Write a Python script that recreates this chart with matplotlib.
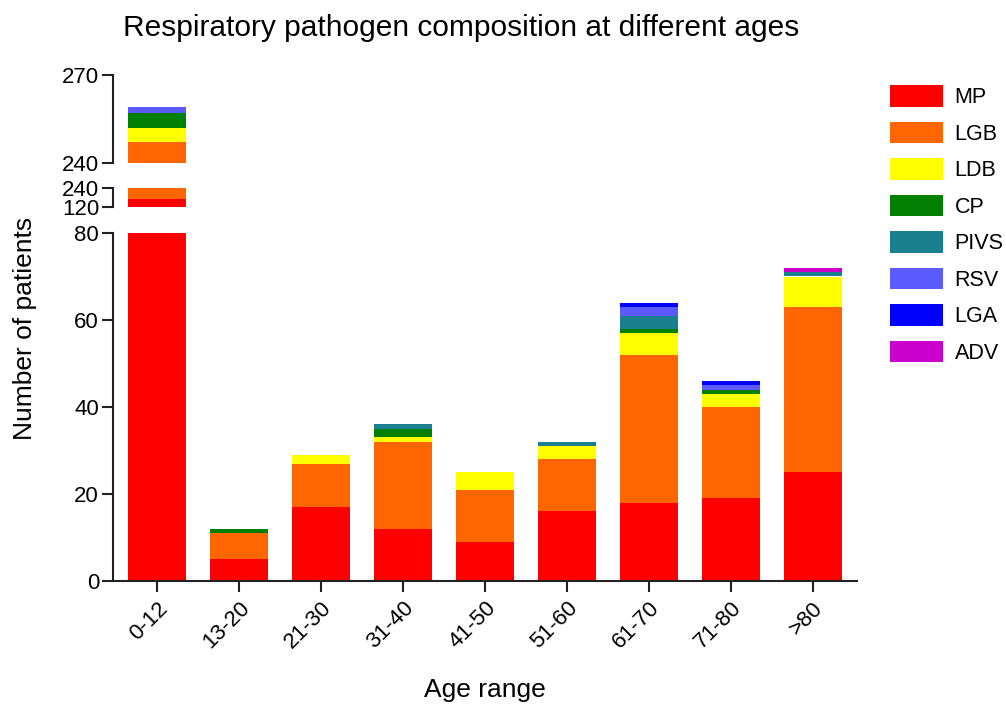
import matplotlib
matplotlib.use("Agg")
import matplotlib.pyplot as plt
import numpy as np

plt.rcParams['font.family'] = ['Liberation Sans', 'DejaVu Sans']

ages = ['0-12', '13-20', '21-30', '31-40', '41-50', '51-60', '61-70', '71-80', '>80']
pathogens = ['MP', 'LGB', 'LDB', 'CP', 'PIVS', 'RSV', 'LGA', 'ADV']
MP = [168, 5, 17, 12, 9, 16, 18, 19, 25]
LGB = [79, 6, 10, 20, 12, 12, 34, 21, 38]
LDB = [5, 0, 2, 1, 4, 3, 5, 3, 7]
CP = [5, 1, 0, 2, 0, 0, 1, 1, 0]
PIVS = [0, 0, 0, 1, 0, 1, 3, 0, 1]
RSV = [2, 0, 0, 0, 0, 0, 2, 1, 0]
LGA = [0, 0, 0, 0, 0, 0, 1, 1, 0]
ADV = [0, 0, 0, 0, 0, 0, 0, 0, 1]
series = [MP, LGB, LDB, CP, PIVS, RSV, LGA, ADV]
colors = ['#FF0000', '#FF6600', '#FFFF00', '#007F00', '#1A7F8F', '#5A5AFF', '#0000FF', '#CC00CC']

W, H = 1006, 713
fig = plt.figure(figsize=(W / 100, H / 100), dpi=100)

def box(left, right, top, bottom):
    return [left / W, 1 - bottom / H, (right - left) / W, (bottom - top) / H]

ax_bot = fig.add_axes(box(113, 857, 233, 581))
ax_mid = fig.add_axes(box(113, 857, 188, 207))
ax_top = fig.add_axes(box(113, 857, 75, 163))

x = np.arange(len(ages))
spine_col = '#222222'
for ax in (ax_bot, ax_mid, ax_top):
    bottom = np.zeros(len(ages))
    for vals, c, name in zip(series, colors, pathogens):
        ax.bar(x, vals, bottom=bottom, width=0.71, color=c, linewidth=0, label=name)
        bottom += np.array(vals)
    ax.set_xlim(-0.54, 8.54)
    for s in ('top', 'right'):
        ax.spines[s].set_visible(False)
    ax.spines['left'].set_linewidth(1.5)
    ax.spines['left'].set_color(spine_col)
    ax.tick_params(axis='y', direction='out', length=8, width=1.5, color=spine_col,
                   labelsize=16, pad=2)

for ax in (ax_mid, ax_top):
    ax.spines['bottom'].set_visible(False)
    ax.set_xticks([])

ax_bot.set_ylim(0, 80)
ax_bot.set_yticks([0, 20, 40, 60, 80])
ax_mid.set_ylim(120, 240)
ax_mid.set_yticks([120, 240])
ax_top.set_ylim(240, 270)
ax_top.set_yticks([240, 270])

ax_bot.spines['bottom'].set_linewidth(1.5)
ax_bot.spines['bottom'].set_color(spine_col)
ax_bot.set_xticks(x)
ax_bot.set_xticklabels(ages, rotation=45, ha='right', rotation_mode='anchor')
ax_bot.tick_params(axis='x', direction='out', length=8, width=1.5, color=spine_col,
                   labelsize=16, pad=4)

ax_bot.set_xlabel('Age range', fontsize=19, labelpad=18)
fig.text(25 / W, 1 - 328 / H, 'Number of patients', rotation=90, fontsize=19,
         ha='center', va='center')
fig.text(461 / W, 1 - 28 / H, 'Respiratory pathogen composition at different ages',
         fontsize=21.5, ha='center', va='center')

handles, labels = ax_bot.get_legend_handles_labels()
fig.legend(handles, labels, loc='upper left', bbox_to_anchor=(890 / W, 1 - 85 / H),
           frameon=False, fontsize=15.5, handlelength=2.45, handleheight=1.18,
           labelspacing=0.62, handletextpad=0.55, borderpad=0, borderaxespad=0)

fig.savefig('out.png', dpi=100)
